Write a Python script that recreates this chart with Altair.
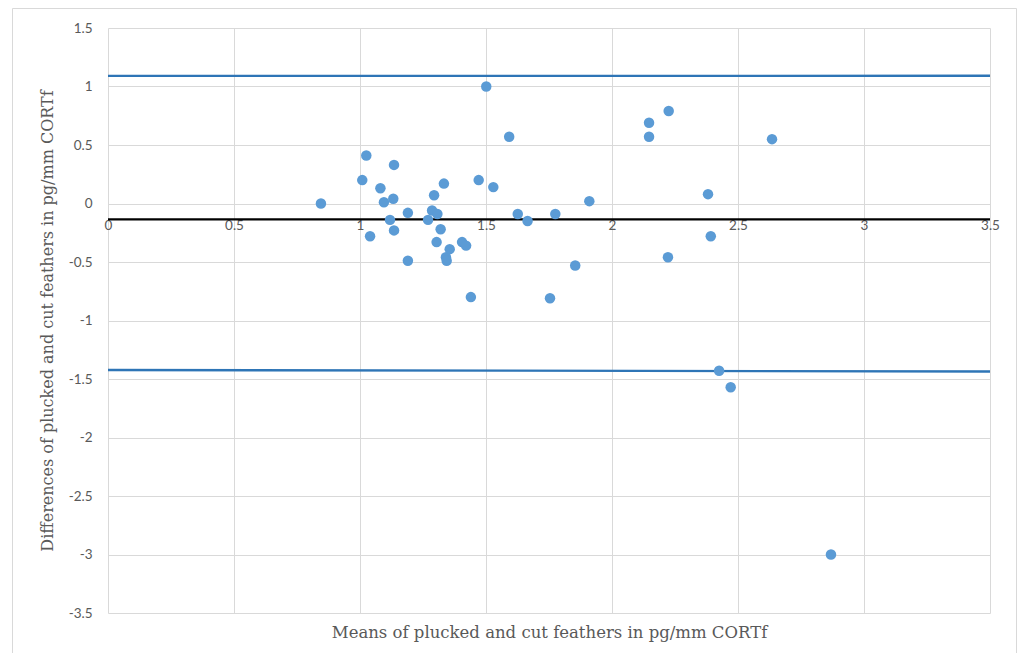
import altair as alt
import pandas as pd

# Means (x) and differences (y)
mean_x = [0.845, 1.009, 1.025, 1.04, 1.081, 1.095, 1.119, 1.135, 1.132, 1.135,
          1.19, 1.19, 1.27, 1.286, 1.294, 1.307, 1.304, 1.32, 1.333, 1.341,
          1.344, 1.356, 1.405, 1.421, 1.44, 1.471, 1.501, 1.529, 1.592, 1.626,
          1.665, 1.754, 1.775, 1.854, 1.91, 2.147, 2.147, 2.225, 2.222, 2.381,
          2.392, 2.635, 2.425, 2.471, 2.869]
diff_y = [0.00, 0.20, 0.41, -0.28, 0.13, 0.01, -0.14, 0.33, 0.04, -0.23,
          -0.08, -0.49, -0.14, -0.06, 0.07, -0.09, -0.33, -0.22, 0.17, -0.46,
          -0.49, -0.39, -0.33, -0.36, -0.80, 0.20, 1.00, 0.14, 0.57, -0.09,
          -0.15, -0.81, -0.09, -0.53, 0.02, 0.69, 0.57, 0.79, -0.46, 0.08,
          -0.28, 0.55, -1.43, -1.57, -3.00]

# Reference lines (value at x=0 and at x=3.5)
line_names = ["upper", "mean", "lower"]
line_x_start = [0.0, 0.0, 0.0]
line_x_end = [3.5, 3.5, 3.5]
line_y_start = [1.09, -0.136, -1.423]
line_y_end = [1.092, -0.136, -1.436]
line_colors = ["#2E75B6", "#000000", "#2E75B6"]

x_ticks = [0, 0.5, 1, 1.5, 2, 2.5, 3, 3.5]
y_ticks = [1.5, 1, 0.5, 0, -0.5, -1, -1.5, -2, -2.5, -3, -3.5]

pts = pd.DataFrame({"x": mean_x, "y": diff_y})
rows = []
for n, xs, xe, ys, ye in zip(line_names, line_x_start, line_x_end, line_y_start, line_y_end):
    rows.append({"name": n, "x": xs, "y": ys})
    rows.append({"name": n, "x": xe, "y": ye})
lines_df = pd.DataFrame(rows)

W, H = 882, 585
GRID = "#d9d9d9"
TXT = "#595959"

xscale = alt.Scale(domain=[0, 3.5], nice=False, zero=False)
yscale = alt.Scale(domain=[-3.5, 1.5], nice=False, zero=False)

x_axis = alt.Axis(
    values=x_ticks, title="Means of plucked and cut feathers in pg/mm CORTf",
    offset=-409.5, domain=False, ticks=False, grid=True, gridColor=GRID,
    labelPadding=15, labelFont="Lato", labelFontSize=13.5, labelColor=TXT,
    labelFlush=False, labelOverlap=False, labelExpr="'' + datum.value",
    titleY=428.5, titleBaseline="middle", titleFont="DejaVu Serif",
    titleFontSize=16.5, titleFontWeight="normal", titleColor=TXT,
)
y_axis = alt.Axis(
    values=y_ticks, title="Differences of plucked and cut feathers in pg/mm CORTf",
    domain=False, ticks=False, grid=True, gridColor=GRID,
    labelPadding=16, labelFont="Lato", labelFontSize=13.5, labelColor=TXT,
    labelFlush=False, labelOverlap=False, labelExpr="'' + datum.value",
    titleX=-61, titleY=H / 2, titleBaseline="middle", titleAlign="center",
    titleFont="DejaVu Serif", titleFontSize=16, titleFontWeight="normal",
    titleColor=TXT,
)

border = alt.Chart(pd.DataFrame({"a": [0]})).mark_rect(
    fillOpacity=0, stroke=GRID, strokeWidth=1
).encode(
    x=alt.value(-95.5), x2=alt.value(908.5),
    y=alt.value(-19.5), y2=alt.value(700),
)

lines = alt.Chart(lines_df).mark_line(strokeWidth=2.3).encode(
    x=alt.X("x:Q", scale=xscale, axis=x_axis),
    y=alt.Y("y:Q", scale=yscale, axis=y_axis),
    detail="name:N",
    color=alt.Color("name:N", scale=alt.Scale(domain=line_names, range=line_colors), legend=None),
)

points = alt.Chart(pts).mark_circle(size=110, opacity=1, color="#5B9BD5").encode(
    x=alt.X("x:Q", scale=xscale, axis=x_axis),
    y=alt.Y("y:Q", scale=yscale, axis=y_axis),
)

chart = alt.layer(lines, points, border).properties(
    width=W, height=H,
    autosize=alt.AutoSizeParams(type="none"),
    padding={"left": 100, "top": 20, "right": 27, "bottom": 40},
    background="white",
).configure_view(stroke=None)

chart.save("out.html", embed_options={"renderer": "svg", "actions": False})
